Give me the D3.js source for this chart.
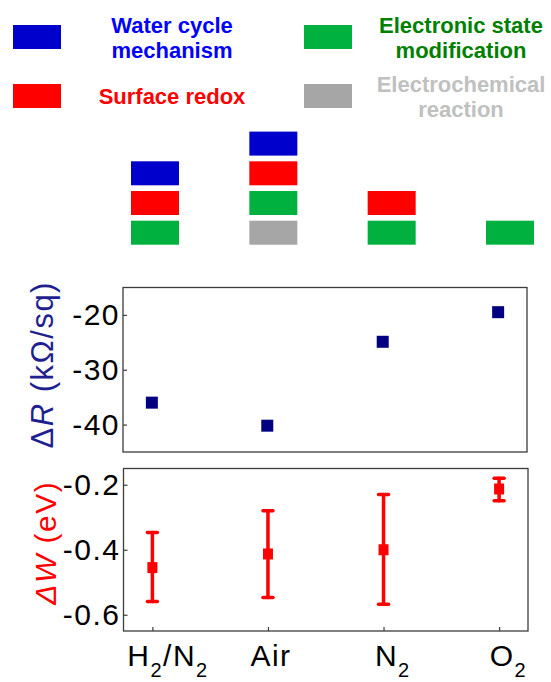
<!DOCTYPE html>
<html>
<head>
<meta charset="utf-8">
<script src="https://cdn.jsdelivr.net/npm/d3@7"></script>
<style>
  body { margin: 0; background: #fff; }
  svg text { font-family: "Liberation Sans", Arial, sans-serif; }
</style>
</head>
<body>
<div id="chart"></div>
<script>
const categories = ["H2/N2", "Air", "N2", "O2"];
const x_tick_labels = ["H_2/N_2", "Air", "N_2", "O_2"];

const delta_r = [-36.0, -40.2, -24.9, -19.5];
const delta_w = [-0.455, -0.413, -0.400, -0.213];
const delta_w_low = [-0.559, -0.547, -0.568, -0.249];
const delta_w_high = [-0.347, -0.280, -0.230, -0.180];

const r_ticks = [-40, -30, -20];
const w_ticks = [-0.6, -0.4, -0.2];

const mech_keys = ["water", "redox", "esm", "echem"];
const mech_labels = [["Water cycle", "mechanism"], ["Surface redox"], ["Electronic state", "modification"], ["Electrochemical", "reaction"]];
const mech_colors = ["#0000cc", "#ff0000", "#00b140", "#a6a6a6"];
const mech_text_colors = ["#0000ff", "#ff0000", "#008000", "#c0c0c0"];

// mechanisms per atmosphere, listed bottom to top
const mech_stacks = [
  ["esm", "redox", "water"],
  ["echem", "esm", "redox", "water"],
  ["esm", "redox"],
  ["esm"]
];

const width = 551;
const height = 682;

const svg = d3.select("#chart")
  .append("svg")
  .attr("width", width)
  .attr("height", height);

const color_of = d3.scaleOrdinal().domain(mech_keys).range(mech_colors);

/*
 * legend
 * */
const block_w = 48;
const block_h = 24;
const legend_rect_x = [13, 304];
const legend_rect_y = [25, 84];
const legend_text_x = [172, 461];
const line_gap = 25;

mech_keys.forEach((k, i) => {
  const col = i < 2 ? 0 : 1;
  const row = i % 2;
  svg.append("rect")
    .attr("x", legend_rect_x[col])
    .attr("y", legend_rect_y[row])
    .attr("width", block_w)
    .attr("height", block_h)
    .attr("fill", color_of(k));

  const lines = mech_labels[i];
  const cy = legend_rect_y[row] + block_h / 2;
  const first = cy - (lines.length - 1) * line_gap / 2 + 8;
  const t = svg.append("text")
    .attr("text-anchor", "middle")
    .attr("font-size", 22)
    .attr("font-weight", "bold")
    .attr("fill", mech_text_colors[i]);
  lines.forEach((l, j) => {
    t.append("tspan")
      .attr("x", legend_text_x[col])
      .attr("y", first + j * line_gap)
      .text(l);
  });
});

/*
 * mechanism stacks
 * */
const block_x = d3.scalePoint().domain(categories).range([155, 510]);
const block_y = d3.scaleLinear().domain([0, 3]).range([220.7, 131.6]);

categories.forEach((c, i) => {
  svg.append("g")
    .selectAll("rect")
    .data(mech_stacks[i])
    .enter()
    .append("rect")
    .attr("x", block_x(c) - block_w / 2)
    .attr("y", (d, lvl) => block_y(lvl))
    .attr("width", block_w)
    .attr("height", block_h)
    .attr("fill", (d) => color_of(d));
});

/*
 * panels
 * */
const frame = (x, y) => {
  const [x0, x1] = x.range();
  const [y0, y1] = y.range();
  svg.append("rect")
    .attr("x", x0)
    .attr("y", y1)
    .attr("width", x1 - x0)
    .attr("height", y0 - y1)
    .attr("fill", "none")
    .attr("stroke", "#3c3c3c")
    .attr("stroke-width", 1.3);
}

const y_axis = (x, y, ticks, fmt) => {
  const g = svg.append("g")
    .attr("transform", `translate(${x.range()[0]},0)`)
    .call(d3.axisLeft(y).tickValues(ticks).tickSize(-4).tickPadding(3).tickFormat(fmt));
  g.select(".domain").remove();
  g.selectAll(".tick line").attr("stroke", "#3c3c3c").attr("stroke-width", 1.2);
  g.selectAll(".tick text")
    .attr("font-size", 30)
    .attr("letter-spacing", 1.5)
    .attr("fill", "#000")
    .attr("font-family", "Liberation Sans, Arial, sans-serif");
  return g;
}

// top panel: delta R
const xr = d3.scaleLinear().domain([0.75, 4.25]).range([123, 527]);
const yr = d3.scaleLinear().domain([-45, -15]).range([452, 287.5]);

frame(xr, yr);
y_axis(xr, yr, r_ticks, (d) => String(d));

const msize_r = 12;
svg.append("g")
  .selectAll("rect")
  .data(delta_r)
  .enter()
  .append("rect")
  .attr("x", (d, i) => xr(i + 1) - msize_r / 2)
  .attr("y", (d) => yr(d) - msize_r / 2)
  .attr("width", msize_r)
  .attr("height", msize_r)
  .attr("fill", "#000080");

const lab_r = svg.append("text")
  .attr("transform", `translate(53,${(yr.range()[0] + yr.range()[1]) / 2 - 5}) rotate(-90)`)
  .attr("text-anchor", "middle")
  .attr("font-size", 31)
  .attr("letter-spacing", 1.5)
  .attr("fill", "#1f1f90");
lab_r.append("tspan").text("Δ");
lab_r.append("tspan").attr("font-style", "italic").text("R");
lab_r.append("tspan").text(" (kΩ/sq)");

// bottom panel: delta W
const xw = d3.scaleLinear().domain([0.75, 4.25]).range([123.5, 528]);
const yw = d3.scaleLinear().domain([-0.65, -0.15]).range([631, 468.5]);

frame(xw, yw);
y_axis(xw, yw, w_ticks, (d) => d.toFixed(1));

const gx = svg.append("g")
  .attr("transform", `translate(0,${yw.range()[0]})`)
  .call(d3.axisBottom(xw).tickValues([1, 2, 3, 4]).tickSize(-4).tickFormat(""));
gx.select(".domain").remove();
gx.selectAll(".tick line").attr("stroke", "#3c3c3c").attr("stroke-width", 1.2);

// x tick labels with subscripts; the full-size letters are centred on the tick
x_tick_labels.forEach((lab, i) => {
  const parts = lab.split(/(_\d)/).filter((p) => p.length);
  const t = svg.append("text")
    .attr("x", 0)
    .attr("y", 666)
    .attr("font-size", 30)
    .attr("letter-spacing", 1.5)
    .attr("fill", "#000");
  let sub = false;
  const chunks = [];
  let pos = 0;
  parts.forEach((p) => {
    const is_sub = p[0] === "_";
    const txt = is_sub ? p.slice(1) : p;
    const s = t.append("tspan").text(txt);
    if (is_sub) {
      s.attr("font-size", 20).attr("dy", 11);
    } else if (sub) {
      s.attr("dy", -11);
    }
    sub = is_sub;
    if (!is_sub) chunks.push([pos, txt.length]);
    pos += txt.length;
  });
  const node = t.node();
  const w = d3.sum(chunks, (c) => node.getSubStringLength(c[0], c[1]));
  t.attr("x", xw(i + 1) - w / 2 + 3);
});

// error bars
const cap_w = 12;
const eb = svg.append("g")
  .attr("stroke", "#ff0000")
  .attr("stroke-width", 3.5)
  .attr("stroke-linecap", "round");

delta_w.forEach((d, i) => {
  const cx = xw(i + 1);
  eb.append("line")
    .attr("x1", cx).attr("x2", cx)
    .attr("y1", yw(delta_w_low[i])).attr("y2", yw(delta_w_high[i]));
  [delta_w_low[i], delta_w_high[i]].forEach((v) => {
    eb.append("line")
      .attr("x1", cx - cap_w / 2 + 1).attr("x2", cx + cap_w / 2 - 1)
      .attr("y1", yw(v)).attr("y2", yw(v));
  });
});

const msize_w = 10;
svg.append("g")
  .selectAll("rect")
  .data(delta_w)
  .enter()
  .append("rect")
  .attr("x", (d, i) => xw(i + 1) - msize_w / 2)
  .attr("y", (d) => yw(d) - msize_w / 2 - 0.5)
  .attr("width", msize_w)
  .attr("height", msize_w + 1)
  .attr("fill", "#ff0000");

const lab_w = svg.append("text")
  .attr("transform", `translate(56,${(yw.range()[0] + yw.range()[1]) / 2 - 7}) rotate(-90)`)
  .attr("text-anchor", "middle")
  .attr("font-size", 30)
  .attr("letter-spacing", 1.5)
  .attr("fill", "#ff0000");
lab_w.append("tspan").attr("font-style", "italic").text("ΔW");
lab_w.append("tspan").text(" (eV)");
</script>
</body>
</html>
